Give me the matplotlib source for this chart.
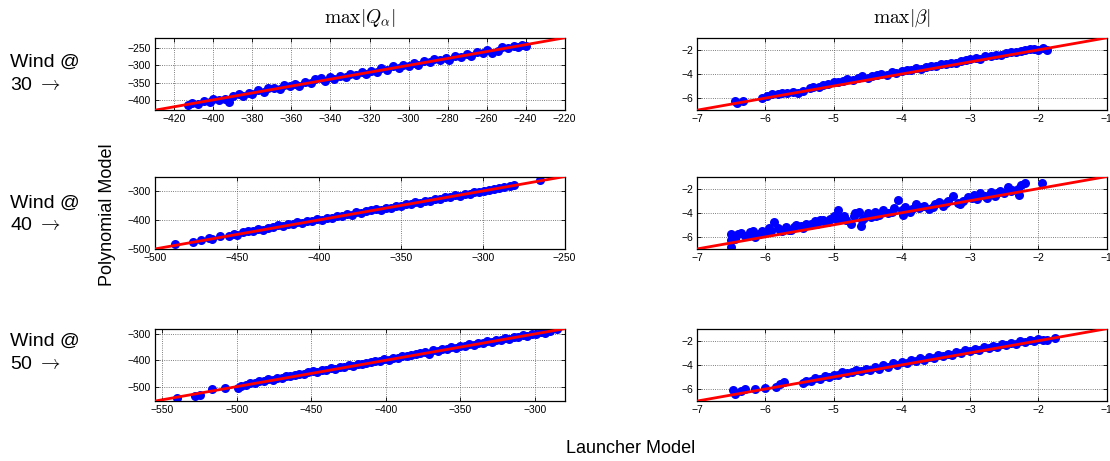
import numpy as np
import matplotlib
matplotlib.use("Agg")
import matplotlib.pyplot as plt

plt.rcParams['font.family'] = ['Liberation Sans', 'DejaVu Sans']
plt.rcParams['mathtext.fontset'] = 'cm'

# max|Q_alpha| at wind 30
q30_x = [-413, -411, -408, -405, -402, -400, -397, -394, -392, -390,
         -387, -385, -382, -380, -377, -374, -372, -369, -366, -364,
         -361, -358, -356, -353, -350, -348, -345, -343, -340, -338,
         -335, -332, -330, -327, -324, -322, -319, -316, -314, -311,
         -308, -305, -303, -300, -297, -295, -292, -289, -287, -284,
         -281, -279, -276, -273, -270, -268, -265, -262, -260, -257,
         -254, -252, -249, -246, -244, -242, -240]
q30_y = [-414, -408, -412, -403, -405, -397, -400, -398, -407, -388,
         -384, -390, -379, -383, -372, -376, -365, -366, -370, -358,
         -360, -353, -360, -348, -352, -340, -338, -346, -334, -339,
         -330, -334, -325, -329, -319, -325, -316, -318, -309, -313,
         -303, -307, -298, -303, -293, -300, -288, -291, -282, -285,
         -278, -283, -272, -275, -266, -274, -262, -265, -254, -263,
         -258, -248, -251, -244, -247, -240, -243]

# max|beta| at wind 30
b30_x = [-6.45, -6.42, -6.33, -6.05, -5.98, -5.9, -5.82, -5.75, -5.68, -5.6,
         -5.52, -5.45, -5.35, -5.3, -5.22, -5.15, -5.08, -5.0, -4.93, -4.86,
         -4.8, -4.72, -4.65, -4.58, -4.5, -4.44, -4.37, -4.3, -4.22, -4.15,
         -4.08, -4.0, -3.93, -3.86, -3.8, -3.72, -3.65, -3.58, -3.5, -3.43,
         -3.36, -3.28, -3.2, -3.13, -3.06, -3.0, -2.92, -2.85, -2.78, -2.7,
         -2.62, -2.55, -2.48, -2.4, -2.33, -2.26, -2.2, -2.13, -2.06, -2.0,
         -1.94, -1.88]
b30_y = [-6.2, -6.4, -6.2, -6.0, -5.8, -5.7, -5.7, -5.6, -5.6, -5.5,
         -5.55, -5.4, -5.2, -5.05, -5.05, -4.95, -4.85, -4.7, -4.65, -4.6,
         -4.45, -4.5, -4.35, -4.2, -4.3, -4.15, -4.1, -4.0, -4.05, -3.85,
         -3.9, -3.75, -3.7, -3.65, -3.5, -3.55, -3.4, -3.35, -3.3, -3.2,
         -3.15, -3.05, -3.1, -2.9, -2.85, -2.75, -2.7, -2.75, -2.5, -2.55,
         -2.4, -2.45, -2.25, -2.2, -2.15, -2.1, -2.05, -1.95, -1.9, -2.0,
         -1.85, -2.0]

# max|Q_alpha| at wind 40
q40_x = [-488, -477, -472, -467, -465, -460, -455, -452, -450, -446,
         -443, -440, -437, -434, -431, -428, -425, -422, -419, -416,
         -413, -410, -407, -404, -401, -398, -395, -392, -389, -386,
         -383, -380, -377, -374, -371, -368, -365, -362, -359, -356,
         -353, -350, -347, -344, -341, -338, -335, -332, -329, -326,
         -323, -320, -317, -314, -311, -308, -305, -302, -299, -296,
         -293, -290, -287, -283, -281, -265]
q40_y = [-484, -477, -470, -463, -466, -457, -455, -450, -451, -441,
         -438, -437, -431, -433, -427, -425, -419, -420, -415, -414,
         -408, -409, -402, -404, -397, -399, -393, -392, -385, -387,
         -380, -382, -374, -376, -370, -367, -363, -364, -357, -358,
         -351, -352, -345, -346, -339, -340, -333, -334, -327, -329,
         -322, -321, -315, -316, -310, -309, -303, -305, -299, -297,
         -293, -290, -286, -283, -280, -263]

# max|beta| at wind 40
b40_x = [-6.5, -6.5, -6.5, -6.48, -6.4, -6.3, -6.22, -6.15, -6.05, -6.0,
         -5.95, -5.87, -5.82, -5.75, -5.7, -5.62, -5.55, -5.48, -5.4, -5.33,
         -5.27, -5.2, -5.12, -5.05, -5.0, -4.93, -4.9, -4.82, -4.75, -4.7,
         -4.63, -4.6, -4.55, -4.5, -4.45, -4.4, -4.33, -4.27, -4.2, -4.12,
         -4.05, -4.0, -3.95, -3.88, -3.8, -3.73, -3.67, -3.6, -3.52, -3.45,
         -3.4, -3.33, -3.25, -3.18, -3.1, -3.03, -2.95, -2.9, -2.85, -2.78,
         -2.7, -2.63, -2.56, -2.5, -2.45, -2.38, -2.3, -2.25, -2.2, -1.95,
         -6.45, -6.35, -6.25, -6.18, -6.1, -5.92, -5.78, -5.65, -5.58, -5.45,
         -5.35, -5.25, -5.15, -5.08, -4.97, -4.85, -4.68, -4.58, -4.48, -4.38,
         -4.15, -3.98, -3.85, -3.75, -3.55, -3.35, -3.15, -2.98, -2.75, -2.6,
         -2.4, -2.28]
b40_y = [-5.8, -6.3, -6.8, -6.1, -5.8, -5.9, -5.6, -6.0, -5.5, -5.6,
         -5.3, -4.8, -5.3, -5.5, -5.2, -5.4, -5.0, -5.1, -4.9, -4.95,
         -4.7, -4.6, -4.8, -4.5, -4.3, -3.75, -4.45, -4.6, -4.9, -4.3,
         -3.9, -5.1, -4.4, -4.0, -4.35, -3.9, -4.2, -3.8, -4.0, -3.6,
         -2.95, -3.8, -3.5, -3.9, -3.3, -3.5, -3.4, -3.7, -3.25, -3.1,
         -3.4, -3.0, -2.6, -3.2, -3.0, -2.7, -2.5, -2.9, -2.4, -2.6,
         -2.3, -2.65, -2.2, -2.4, -1.9, -2.1, -2.0, -1.7, -1.55, -1.5,
         -6.2, -5.7, -5.9, -5.5, -5.8, -5.5, -5.4, -5.45, -5.2, -5.3,
         -5.0, -4.9, -4.6, -4.8, -4.5, -4.3, -4.0, -4.6, -4.2, -4.3,
         -3.9, -4.2, -3.7, -3.6, -3.5, -3.2, -3.25, -2.8, -2.75, -2.4,
         -2.2, -2.5]

# max|Q_alpha| at wind 50
q50_x = [-540, -528, -525, -517, -508, -499, -497, -494, -491, -488,
         -485, -482, -479, -476, -473, -470, -467, -464, -461, -458,
         -455, -452, -449, -446, -443, -440, -437, -434, -431, -428,
         -425, -422, -419, -416, -413, -410, -407, -404, -401, -398,
         -395, -392, -389, -386, -383, -380, -377, -374, -371, -368,
         -365, -362, -359, -356, -353, -350, -347, -344, -341, -338,
         -335, -332, -329, -326, -323, -320, -317, -314, -311, -308,
         -305, -302, -299, -296, -293, -290, -285]
q50_y = [-545, -535, -532, -510, -505, -507, -496, -495, -488, -485,
         -478, -480, -472, -474, -466, -468, -460, -461, -455, -452,
         -451, -446, -442, -443, -436, -437, -430, -432, -425, -426,
         -419, -421, -414, -413, -409, -408, -402, -403, -396, -399,
         -391, -390, -384, -385, -379, -377, -374, -370, -375, -362,
         -364, -356, -358, -350, -352, -344, -346, -339, -341, -333,
         -334, -327, -330, -322, -324, -317, -318, -311, -313, -305,
         -306, -299, -300, -294, -295, -288, -283]

# max|beta| at wind 50
b50_x = [-6.47, -6.45, -6.35, -6.3, -6.15, -6.0, -5.85, -5.78, -5.72, -5.45,
         -5.4, -5.33, -5.27, -5.2, -5.13, -5.07, -5.0, -4.93, -4.87, -4.8,
         -4.73, -4.67, -4.6, -4.53, -4.47, -4.4, -4.33, -4.27, -4.2, -4.13,
         -4.07, -4.0, -3.93, -3.87, -3.8, -3.73, -3.67, -3.6, -3.53, -3.47,
         -3.4, -3.33, -3.27, -3.2, -3.13, -3.07, -3.0, -2.93, -2.87, -2.8,
         -2.73, -2.67, -2.6, -2.53, -2.47, -2.4, -2.33, -2.27, -2.2, -2.13,
         -2.07, -2.0, -1.93, -1.87, -1.75]
b50_y = [-6.1, -6.4, -6.2, -6.0, -6.0, -5.9, -5.8, -5.55, -5.45, -5.5,
         -5.3, -5.35, -5.1, -5.2, -4.95, -5.0, -4.8, -4.85, -4.6, -4.7,
         -4.55, -4.45, -4.5, -4.3, -4.4, -4.2, -4.3, -4.05, -4.15, -3.85,
         -4.0, -3.75, -3.85, -3.6, -3.65, -3.45, -3.6, -3.35, -3.4, -3.2,
         -3.3, -3.1, -3.15, -2.95, -3.05, -2.8, -2.85, -2.65, -2.75, -2.55,
         -2.6, -2.4, -2.5, -2.3, -2.35, -2.15, -2.25, -2.05, -2.1, -1.95,
         -2.0, -1.85, -1.95, -1.9, -1.8]

wind_labels = ['Wind @\n30 $\\rightarrow$', 'Wind @\n40 $\\rightarrow$', 'Wind @\n50 $\\rightarrow$']
col_titles = [r'$\max|Q_\alpha|$', r'$\max|\beta|$']

# per panel: data, axis limits, x ticks, y ticks
panels = [
    [(q30_x, q30_y, (-430, -220), np.arange(-420, -219, 20), [-400, -350, -300, -250]),
     (b30_x, b30_y, (-7, -1), np.arange(-7, 0), [-6, -4, -2])],
    [(q40_x, q40_y, (-500, -250), np.arange(-500, -249, 50), [-500, -400, -300]),
     (b40_x, b40_y, (-7, -1), np.arange(-7, 0), [-6, -4, -2])],
    [(q50_x, q50_y, (-555, -280), np.arange(-550, -299, 50), [-500, -400, -300]),
     (b50_x, b50_y, (-7, -1), np.arange(-7, 0), [-6, -4, -2])],
]

fig = plt.figure(figsize=(11.1, 4.61), dpi=100)

lefts = [0.1396, 0.628]
bottoms = [0.761, 0.460, 0.130]
w, h = 0.369, 0.157

for r in range(3):
    for c in range(2):
        xs, ys, lim, xt, yt = panels[r][c]
        ax = fig.add_axes([lefts[c], bottoms[r], w, h])
        ax.plot(xs, ys, 'o', color='#0000ff', markersize=6.5, markeredgewidth=0, zorder=2)
        ax.plot(lim, lim, '-', color='#ff0000', linewidth=2, zorder=3)
        ax.set_xlim(lim)
        ax.set_ylim(lim)
        ax.set_xticks(xt)
        ax.set_yticks(yt)
        ax.grid(True, linestyle=':', color='#555555', linewidth=0.6)
        ax.tick_params(direction='in', top=True, right=True, labelsize=7.5,
                       length=3, width=0.6, pad=3)
        for s in ax.spines.values():
            s.set_linewidth(0.9)
        if r == 0:
            ax.set_title(col_titles[c], fontsize=14, pad=11)

# row labels
for r, yy in enumerate([0.84, 0.535, 0.235]):
    fig.text(0.009, yy, wind_labels[r], fontsize=14, ha='left', va='center',
             linespacing=1.45)

fig.text(0.097, 0.535, 'Polynomial Model', rotation=90, fontsize=13,
         ha='center', va='center')
fig.text(0.568, 0.028, 'Launcher Model', fontsize=13, ha='center', va='center')

fig.savefig('out.png', dpi=100)
